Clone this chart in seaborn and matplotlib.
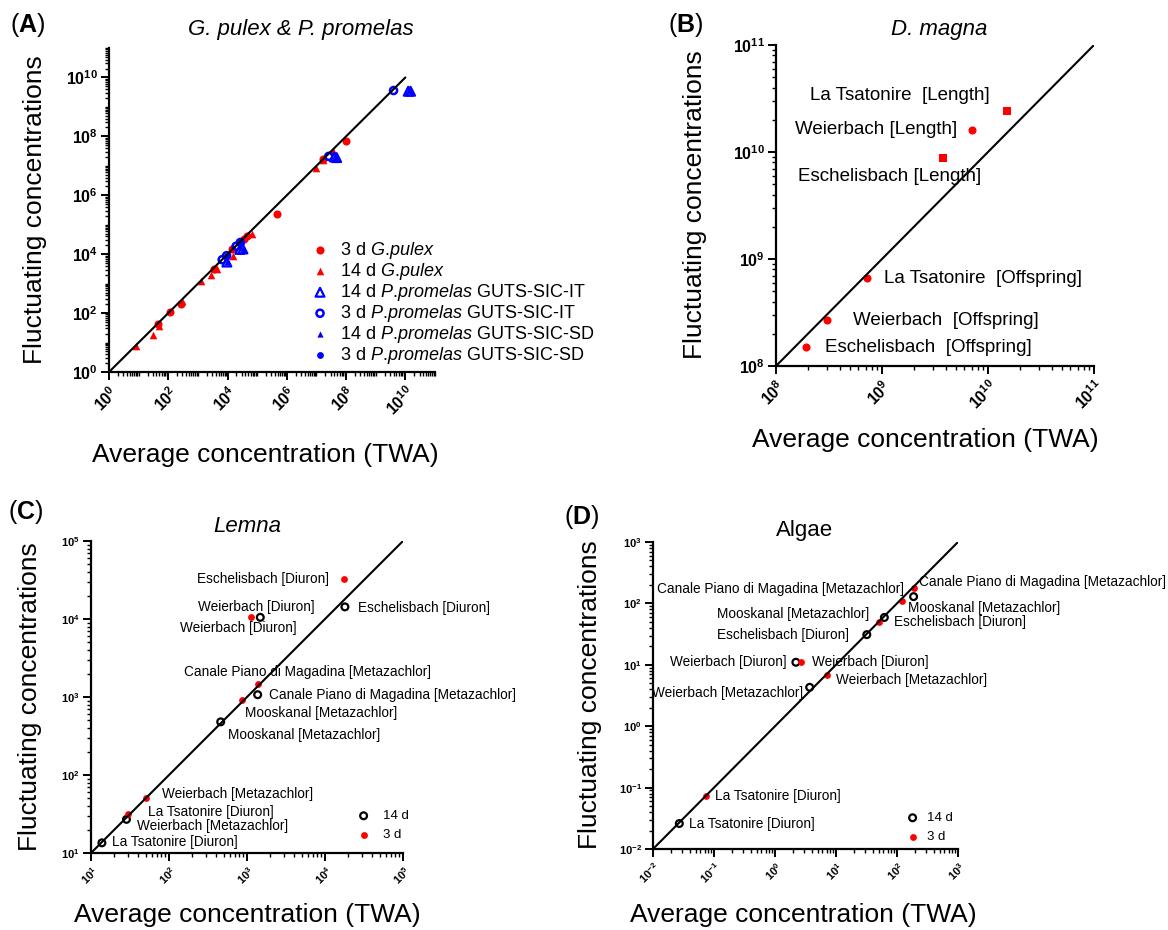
import numpy as np
import matplotlib
matplotlib.use('Agg')
import matplotlib.pyplot as plt
import matplotlib.ticker as mticker
import seaborn as sns

# ======= data =======
# (A) G. pulex & P. promelas
a_line = [1, 1e10]
a_gp3_x = [46, 115, 275, 3400, 14500, 36000, 46000, 4.5e5, 1.7e7, 9.8e7]
a_gp3_y = [43, 110, 205, 3200, 15500, 33000, 40000, 2.4e5, 1.75e7, 7.2e7]
a_gp14_x = [8, 30, 50, 290, 1300, 2800, 4400, 15000, 65000, 9.3e6, 1.7e7, 3.6e7]
a_gp14_y = [7.6, 18, 36, 260, 1200, 2000, 3100, 8900, 49000, 8.5e6, 1.6e7, 3.1e7]
a_it14_x = [9500, 26000, 33000, 4.0e7, 4.8e7, 1.25e10, 1.5e10]
a_it14_y = [5400, 14500, 15000, 2.0e7, 1.9e7, 3.4e9, 3.4e9]
a_it3_x = [6600, 9300, 19500, 27000, 2.6e7, 4.0e9]
a_it3_y = [6500, 8900, 18600, 25000, 2.1e7, 3.6e9]
a_sd14_x = [9500, 32000, 4.3e7, 1.4e10]
a_sd14_y = [5300, 15000, 1.9e7, 3.4e9]
a_sd3_x = [9300, 28000]
a_sd3_y = [9000, 26000]
a_legend = [r'3 d $\it{G.\!pulex}$', r'14 d $\it{G.\!pulex}$',
            r'14 d $\it{P.\!promelas}$ GUTS-SIC-IT', r'3 d $\it{P.\!promelas}$ GUTS-SIC-IT',
            r'14 d $\it{P.\!promelas}$ GUTS-SIC-SD', r'3 d $\it{P.\!promelas}$ GUTS-SIC-SD']
a_ticks = [1e0, 1e2, 1e4, 1e6, 1e8, 1e10]

# (B) D. magna
b_line = [1e8, 1e11]
b_circ_x = [1.9e8, 3.0e8, 7.2e8, 7.0e9]
b_circ_y = [1.5e8, 2.7e8, 6.7e8, 1.6e10]
b_circ_lab = ['Eschelisbach  [Offspring]', 'Weierbach  [Offspring]',
              'La Tsatonire  [Offspring]', 'Weierbach [Length]']
b_sq_x = [3.8e9, 1.5e10]
b_sq_y = [8.7e9, 2.4e10]
b_sq_lab = ['Eschelisbach [Length]', 'La Tsatonire  [Length]']
b_ticks = [1e8, 1e9, 1e10, 1e11]

# (C) Lemna
c_line = [1e1, 1e5]
c_lab = ['Eschelisbach [Diuron]', 'Weierbach [Diuron]',
         'Canale Piano di Magadina [Metazachlor]', 'Mooskanal [Metazachlor]',
         'Weierbach [Metazachlor]', 'La Tsatonire [Diuron]']
c_3d_x = [1.75e4, 1.12e3, 1.39e3, 870, 50, 30]
c_3d_y = [3.3e4, 1.05e4, 1.45e3, 910, 51, 31.6]
c_14d_x = [1.8e4, 1.48e3, 1.37e3, 460, 28.5, 13.8]
c_14d_y = [1.43e4, 1.05e4, 1.07e3, 480, 27, 13.5]
c_ticks = [1e1, 1e2, 1e3, 1e4, 1e5]

# (D) Algae
d_line = [1e-2, 1e3]
d_lab = ['Canale Piano di Magadina [Metazachlor]', 'Mooskanal [Metazachlor]',
         'Eschelisbach [Diuron]', 'Weierbach [Diuron]',
         'Weierbach [Metazachlor]', 'La Tsatonire [Diuron]']
d_3d_x = [190, 120, 50, 2.7, 7.2, 0.074]
d_3d_y = [178, 110, 50, 11, 6.8, 0.073]
d_14d_x = [187, 62, 32, 2.2, 3.7, 0.027]
d_14d_y = [129, 59, 31, 11, 4.3, 0.026]
d_ticks = [1e-2, 1e-1, 1e0, 1e1, 1e2, 1e3]

# label offsets in pixels (dx right, dy up) and alignment
b_circ_off = [(19, 0, 'left'), (26, -1, 'left'), (17, -1, 'left'), (-14, 1, 'right')]
b_sq_off = [(38, -18, 'right'), (-17, 16, 'right')]
c_3d_off = [(-15, 0, 'right'), (5, 10, 'center'), (49, 12, 'center'),
            (3, -13, 'left'), (16, 4, 'left'), (20, 2, 'left')]
c_14d_off = [(13, -1, 'left'), (-22, -11, 'center'), (11, 0, 'left'),
             (7, -13, 'left'), (11, -7, 'left'), (10, 1, 'left')]
d_3d_off = [(5, 6, 'left'), (6, -7, 'left'), (15, 0, 'left'),
            (11, 0, 'left'), (9, -5, 'left'), (9, 0, 'left')]
d_14d_off = [(-10, 8, 'right'), (-15, 3, 'right'), (-18, 0, 'right'),
             (-9, 0, 'right'), (-7, -6, 'right'), (10, 0, 'left')]

# ======= style =======
sns.set_style('ticks')
plt.rcParams['font.family'] = ['Liberation Sans', 'DejaVu Sans']
plt.rcParams['mathtext.fontset'] = 'custom'
plt.rcParams['mathtext.rm'] = 'Liberation Sans'
plt.rcParams['mathtext.it'] = 'Liberation Sans:italic'
plt.rcParams['mathtext.bf'] = 'Liberation Sans:bold'
plt.rcParams['axes.edgecolor'] = 'black'
plt.rcParams['text.color'] = 'black'
plt.rcParams['axes.labelcolor'] = 'black'
plt.rcParams['xtick.color'] = 'black'
plt.rcParams['ytick.color'] = 'black'

W, H = 1168, 930
fig = plt.figure(figsize=(W / 100, H / 100), dpi=100)
RED = '#ff0000'
BLUE = '#0000ff'
LAB_BIG = 13.5
LAB_SMALL = 9.8


def px_axes(left, top, right, bottom):
    return fig.add_axes([left / W, 1 - bottom / H, (right - left) / W, (bottom - top) / H])


def ftext(x, y, s, **kw):
    fig.text(x / W, 1 - y / H, s, ha=kw.pop('ha', 'center'), va=kw.pop('va', 'center'), **kw)


def fmt_pow(v, pos):
    return r'$\mathbf{10^{%d}}$' % int(round(np.log10(v)))


def style_axes(ax, ticks, lims, fs):
    ax.set_xscale('log')
    ax.set_yscale('log')
    ax.set_xlim(lims)
    ax.set_ylim(lims)
    for axis in (ax.xaxis, ax.yaxis):
        axis.set_major_locator(mticker.FixedLocator(ticks))
        axis.set_minor_locator(mticker.LogLocator(base=10, subs=np.arange(1, 10), numticks=200))
        axis.set_major_formatter(mticker.FuncFormatter(fmt_pow))
        axis.set_minor_formatter(mticker.NullFormatter())
    sns.despine(ax=ax)
    for s in ('left', 'bottom'):
        ax.spines[s].set_linewidth(1.6)
    ax.tick_params(which='major', length=6, width=1.4, labelsize=fs, pad=2)
    ax.tick_params(which='minor', length=3, width=1.0)
    ax.tick_params(axis='x', labelrotation=45)
    plt.setp(ax.get_xticklabels(), ha='right', va='top', rotation_mode='anchor')
    ax.set_xlabel('')
    ax.set_ylabel('')


def one_to_one(ax, line):
    sns.lineplot(x=line, y=line, color='black', linewidth=1.5, ax=ax, estimator=None)


def label_points(ax, xs, ys, labels, offsets, fs):
    for x, y, t, (dx, dy, ha) in zip(xs, ys, labels, offsets):
        ax.annotate(t, (x, y), xytext=(dx * 0.72, dy * 0.72), textcoords='offset points',
                    ha=ha, va='center', fontsize=fs, annotation_clip=False)


def open_last(ax):
    ax.collections[-1].set_facecolor('none')


# ======= (A) =======
axA = px_axes(109, 48, 435, 372)
one_to_one(axA, a_line)
sns.scatterplot(x=a_gp3_x, y=a_gp3_y, marker='o', s=34, color=RED, linewidth=0, label=a_legend[0], ax=axA)
sns.scatterplot(x=a_gp14_x, y=a_gp14_y, marker='^', s=30, color=RED, linewidth=0, label=a_legend[1], ax=axA)
sns.scatterplot(x=a_it14_x, y=a_it14_y, marker='^', s=40, color=BLUE, edgecolor=BLUE, linewidth=1.6, label=a_legend[2], ax=axA)
open_last(axA)
sns.scatterplot(x=a_it3_x, y=a_it3_y, marker='o', s=26, color=BLUE, edgecolor=BLUE, linewidth=1.8, label=a_legend[3], ax=axA)
open_last(axA)
sns.scatterplot(x=a_sd14_x, y=a_sd14_y, marker='^', s=20, color=BLUE, linewidth=0, label=a_legend[4], ax=axA)
sns.scatterplot(x=a_sd3_x, y=a_sd3_y, marker='o', s=24, color=BLUE, linewidth=0, label=a_legend[5], ax=axA)
style_axes(axA, a_ticks, (1, 1e11), 11.5)
axA.legend(loc='upper left', bbox_to_anchor=(311 / W, 1 - 240 / H), bbox_transform=fig.transFigure,
           frameon=False, borderpad=0, borderaxespad=0, handlelength=1.0, handletextpad=0.6,
           labelspacing=0.0, fontsize=13)

# ======= (B) =======
axB = px_axes(776, 45, 1094, 366)
one_to_one(axB, b_line)
sns.scatterplot(x=b_circ_x, y=b_circ_y, marker='o', s=34, color=RED, linewidth=0, ax=axB)
sns.scatterplot(x=b_sq_x, y=b_sq_y, marker='s', s=28, color=RED, linewidth=0, ax=axB)
style_axes(axB, b_ticks, (1e8, 1e11), 11.5)
label_points(axB, b_circ_x, b_circ_y, b_circ_lab, b_circ_off, LAB_BIG)
label_points(axB, b_sq_x, b_sq_y, b_sq_lab, b_sq_off, LAB_BIG)

# ======= (C) =======
axC = px_axes(91, 541, 403, 853)
one_to_one(axC, c_line)
sns.scatterplot(x=c_14d_x, y=c_14d_y, marker='o', s=24, color='black', edgecolor='black', linewidth=1.6, label='14 d', ax=axC)
open_last(axC)
sns.scatterplot(x=c_3d_x, y=c_3d_y, marker='o', s=24, color=RED, linewidth=0, label='3 d', ax=axC)
style_axes(axC, c_ticks, (1e1, 1e5), 8)
label_points(axC, c_3d_x, c_3d_y, c_lab, c_3d_off, LAB_SMALL)
label_points(axC, c_14d_x, c_14d_y, c_lab, c_14d_off, LAB_SMALL)
axC.legend(loc='upper left', bbox_to_anchor=(357 / W, 1 - 810 / H), bbox_transform=fig.transFigure,
           frameon=False, borderpad=0, borderaxespad=0, handlelength=1.0, handletextpad=0.95,
           labelspacing=0.5, fontsize=9.5)

# ======= (D) =======
axD = px_axes(653, 542, 958, 849)
one_to_one(axD, d_line)
sns.scatterplot(x=d_14d_x, y=d_14d_y, marker='o', s=24, color='black', edgecolor='black', linewidth=1.6, label='14 d', ax=axD)
open_last(axD)
sns.scatterplot(x=d_3d_x, y=d_3d_y, marker='o', s=24, color=RED, linewidth=0, label='3 d', ax=axD)
style_axes(axD, d_ticks, (1e-2, 1e3), 8)
label_points(axD, d_3d_x, d_3d_y, d_lab, d_3d_off, LAB_SMALL)
label_points(axD, d_14d_x, d_14d_y, d_lab, d_14d_off, LAB_SMALL)
axD.legend(loc='upper left', bbox_to_anchor=(906 / W, 1 - 812 / H), bbox_transform=fig.transFigure,
           frameon=False, borderpad=0, borderaxespad=0, handlelength=1.0, handletextpad=0.57,
           labelspacing=0.5, fontsize=9.5)

# ======= titles, axis labels, panel letters =======
ftext(301, 30, 'G. pulex & P. promelas', fontsize=16, style='italic')
ftext(939, 30, 'D. magna', fontsize=16, style='italic')
ftext(247, 527, 'Lemna', fontsize=16, style='italic')
ftext(805, 530, 'Algae', fontsize=16)

for x, y in [(265, 455), (925, 440), (247, 915), (803, 915)]:
    ftext(x, y, 'Average concentration (TWA)', fontsize=19)
for x, y in [(35, 210), (695, 205), (30, 697), (590, 695)]:
    ftext(x, y, 'Fluctuating concentrations', fontsize=19, rotation=90)

for x, y, t in [(28, 25, 'A'), (686, 25, 'B'), (26, 512, 'C'), (582, 517, 'D')]:
    ftext(x, y, r'($\mathbf{%s}$)' % t, fontsize=18)

fig.savefig('out.png', dpi=100)
